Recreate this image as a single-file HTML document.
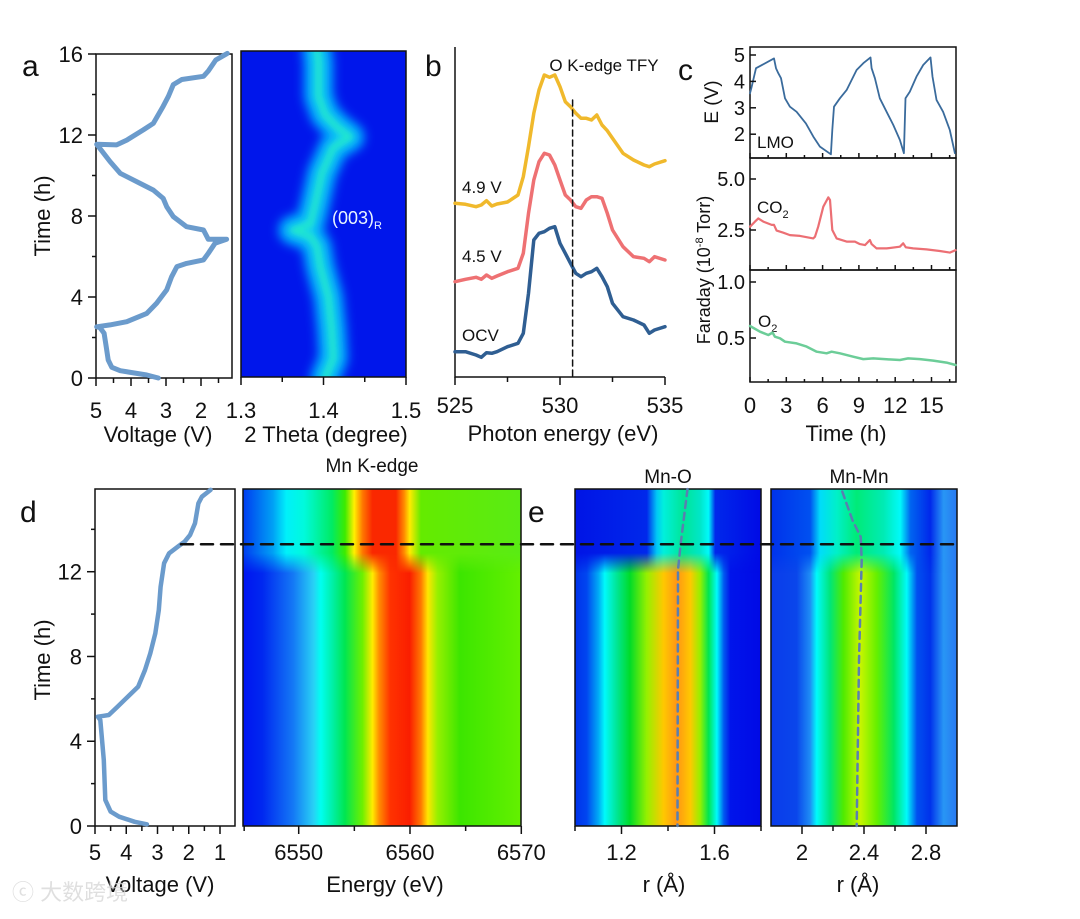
<!DOCTYPE html>
<html><head><meta charset="utf-8"><style>
html,body{margin:0;padding:0;background:#fff;}
svg text{font-family:"Liberation Sans","Noto Sans CJK SC",sans-serif;fill:#111;}
</style></head><body>
<svg id="fig" width="1080" height="914" viewBox="0 0 1080 914" xmlns="http://www.w3.org/2000/svg">
<defs>
<filter id="blur5" x="-50%" y="-10%" width="200%" height="120%"><feGaussianBlur stdDeviation="5"/></filter>
<filter id="blur3" x="-50%" y="-10%" width="200%" height="120%"><feGaussianBlur stdDeviation="3"/></filter>
<clipPath id="clipA"><rect x="241" y="51" width="165" height="326"/></clipPath>
<linearGradient id="dBot" x1="243" x2="521" gradientUnits="userSpaceOnUse">
<stop offset="0" stop-color="rgb(0,20,240)"/><stop offset=".07" stop-color="rgb(0,40,240)"/><stop offset=".18" stop-color="rgb(20,120,245)"/><stop offset=".255" stop-color="rgb(40,210,245)"/><stop offset=".28" stop-color="rgb(0,255,240)"/><stop offset=".32" stop-color="rgb(0,240,170)"/><stop offset=".367" stop-color="rgb(0,230,80)"/><stop offset=".43" stop-color="rgb(110,240,0)"/><stop offset=".466" stop-color="rgb(255,235,0)"/><stop offset=".49" stop-color="rgb(255,140,0)"/><stop offset=".53" stop-color="rgb(255,50,0)"/><stop offset=".60" stop-color="rgb(250,30,0)"/><stop offset=".64" stop-color="rgb(255,120,0)"/><stop offset=".665" stop-color="rgb(255,230,0)"/><stop offset=".70" stop-color="rgb(150,240,0)"/><stop offset=".78" stop-color="rgb(60,230,0)"/><stop offset="1" stop-color="rgb(100,240,0)"/>
</linearGradient>
<linearGradient id="dTop" x1="243" x2="521" gradientUnits="userSpaceOnUse">
<stop offset="0" stop-color="rgb(0,60,240)"/><stop offset=".107" stop-color="rgb(0,160,245)"/><stop offset=".156" stop-color="rgb(0,240,250)"/><stop offset=".22" stop-color="rgb(0,250,220)"/><stop offset=".32" stop-color="rgb(0,235,100)"/><stop offset=".367" stop-color="rgb(60,235,0)"/><stop offset=".40" stop-color="rgb(255,240,0)"/><stop offset=".43" stop-color="rgb(255,120,0)"/><stop offset=".466" stop-color="rgb(250,40,0)"/><stop offset=".55" stop-color="rgb(250,40,0)"/><stop offset=".58" stop-color="rgb(255,140,0)"/><stop offset=".60" stop-color="rgb(255,235,0)"/><stop offset=".64" stop-color="rgb(100,235,0)"/><stop offset="1" stop-color="rgb(90,235,20)"/>
</linearGradient>
<linearGradient id="e1Bot" x1="575" x2="761" gradientUnits="userSpaceOnUse">
<stop offset="0" stop-color="rgb(0,50,235)"/><stop offset=".063" stop-color="rgb(0,70,240)"/><stop offset=".126" stop-color="rgb(0,170,245)"/><stop offset=".16" stop-color="rgb(0,250,250)"/><stop offset=".224" stop-color="rgb(0,230,150)"/><stop offset=".296" stop-color="rgb(0,220,40)"/><stop offset=".386" stop-color="rgb(150,240,0)"/><stop offset=".476" stop-color="rgb(255,200,0)"/><stop offset=".548" stop-color="rgb(255,150,20)"/><stop offset=".62" stop-color="rgb(255,200,0)"/><stop offset=".673" stop-color="rgb(150,240,0)"/><stop offset=".718" stop-color="rgb(0,230,80)"/><stop offset=".763" stop-color="rgb(0,250,250)"/><stop offset=".80" stop-color="rgb(0,90,240)"/><stop offset=".835" stop-color="rgb(0,20,235)"/><stop offset="1" stop-color="rgb(0,10,230)"/>
</linearGradient>
<linearGradient id="e1Top" x1="575" x2="761" gradientUnits="userSpaceOnUse">
<stop offset="0" stop-color="rgb(0,20,230)"/><stop offset=".386" stop-color="rgb(0,40,235)"/><stop offset=".44" stop-color="rgb(0,200,245)"/><stop offset=".476" stop-color="rgb(0,240,220)"/><stop offset=".583" stop-color="rgb(0,230,150)"/><stop offset=".673" stop-color="rgb(0,230,200)"/><stop offset=".718" stop-color="rgb(0,250,250)"/><stop offset=".754" stop-color="rgb(0,40,235)"/><stop offset="1" stop-color="rgb(0,10,230)"/>
</linearGradient>
<linearGradient id="e2Bot" x1="771" x2="957" gradientUnits="userSpaceOnUse">
<stop offset="0" stop-color="rgb(10,60,235)"/><stop offset=".138" stop-color="rgb(10,70,235)"/><stop offset=".21" stop-color="rgb(30,140,245)"/><stop offset=".246" stop-color="rgb(0,250,250)"/><stop offset=".318" stop-color="rgb(0,230,120)"/><stop offset=".39" stop-color="rgb(80,235,0)"/><stop offset=".48" stop-color="rgb(200,245,0)"/><stop offset=".57" stop-color="rgb(100,240,0)"/><stop offset=".66" stop-color="rgb(0,230,100)"/><stop offset=".73" stop-color="rgb(0,250,250)"/><stop offset=".785" stop-color="rgb(0,80,240)"/><stop offset=".856" stop-color="rgb(0,50,235)"/><stop offset=".928" stop-color="rgb(40,150,245)"/><stop offset="1" stop-color="rgb(40,120,240)"/>
</linearGradient>
<linearGradient id="e2Top" x1="771" x2="957" gradientUnits="userSpaceOnUse">
<stop offset="0" stop-color="rgb(0,50,235)"/><stop offset=".21" stop-color="rgb(0,80,240)"/><stop offset=".264" stop-color="rgb(0,220,250)"/><stop offset=".354" stop-color="rgb(0,240,200)"/><stop offset=".46" stop-color="rgb(0,235,120)"/><stop offset=".605" stop-color="rgb(0,235,180)"/><stop offset=".695" stop-color="rgb(0,250,250)"/><stop offset=".75" stop-color="rgb(0,100,240)"/><stop offset=".856" stop-color="rgb(0,40,235)"/><stop offset=".928" stop-color="rgb(40,150,245)"/><stop offset="1" stop-color="rgb(40,120,240)"/>
</linearGradient>
<linearGradient id="fadeTop" x1="0" x2="0" y1="489" y2="826" gradientUnits="userSpaceOnUse">
<stop offset="0" stop-color="#fff"/><stop offset=".19" stop-color="#fff"/><stop offset=".25" stop-color="#000"/><stop offset="1" stop-color="#000"/>
</linearGradient>
<mask id="mTop"><rect x="0" y="489" width="1080" height="337" fill="url(#fadeTop)"/></mask>
</defs>
<rect x="0" y="0" width="1080" height="914" fill="#fff"/>

<!-- panel letters & titles -->
<text x="22" y="76" font-size="30">a</text>
<text x="425" y="76" font-size="30">b</text>
<text x="678" y="80" font-size="30">c</text>
<text x="20" y="522" font-size="30">d</text>
<text x="528" y="522" font-size="30">e</text>

<!-- heatmap a -->
<g clip-path="url(#clipA)">
<rect x="241" y="51" width="165" height="326" fill="rgb(0,22,235)"/>
<g id="ridgeG"></g>
</g>
<rect x="241" y="51" width="165" height="326" fill="none" stroke="#111" stroke-width="1.5"/>
<text x="332" y="224" font-size="18" fill="#e8f4ff" style="fill:#e8f4ff">(003)<tspan font-size="11" dy="5" style="fill:#e8f4ff">R</tspan></text>

<!-- heatmap d -->
<g>
<rect x="243" y="489" width="278" height="337" fill="url(#dBot)"/>
<rect x="243" y="489" width="278" height="337" fill="url(#dTop)" mask="url(#mTop)"/>
</g>
<rect x="243" y="489" width="278" height="337" fill="none" stroke="#111" stroke-width="1.5"/>
<g>
<rect x="575" y="489" width="186" height="337" fill="url(#e1Bot)"/>
<rect x="575" y="489" width="186" height="337" fill="url(#e1Top)" mask="url(#mTop)"/>
</g>
<rect x="575" y="489" width="186" height="337" fill="none" stroke="#111" stroke-width="1.5"/>
<g>
<rect x="771" y="489" width="186" height="337" fill="url(#e2Bot)"/>
<rect x="771" y="489" width="186" height="337" fill="url(#e2Top)" mask="url(#mTop)"/>
</g>
<rect x="771" y="489" width="186" height="337" fill="none" stroke="#111" stroke-width="1.5"/>

<!-- frames -->
<rect x="96" y="54" width="136" height="324" fill="none" stroke="#111" stroke-width="1.5"/>
<path d="M455,47 V377 H665" fill="none" stroke="#111" stroke-width="1.5"/>
<rect x="750" y="47" width="206" height="111" fill="none" stroke="#111" stroke-width="1.5"/>
<rect x="750" y="158" width="206" height="112" fill="none" stroke="#111" stroke-width="1.5"/>
<rect x="750" y="270" width="206" height="112" fill="none" stroke="#111" stroke-width="1.5"/>
<rect x="95" y="489" width="140" height="337" fill="none" stroke="#111" stroke-width="1.5"/>

<!-- axis titles -->
<text transform="translate(50,216) rotate(-90)" text-anchor="middle" font-size="22">Time (h)</text>
<text x="158" y="442" text-anchor="middle" font-size="22">Voltage (V)</text>
<text x="326" y="442" text-anchor="middle" font-size="22">2 Theta (degree)</text>
<text x="563" y="441" text-anchor="middle" font-size="22">Photon energy (eV)</text>
<text x="604" y="71" text-anchor="middle" font-size="17">O K-edge TFY</text>
<text x="462" y="193" font-size="17">4.9 V</text>
<text x="462" y="262" font-size="17">4.5 V</text>
<text x="462" y="341" font-size="17">OCV</text>
<text x="846" y="441" text-anchor="middle" font-size="22">Time (h)</text>
<text transform="translate(718,102) rotate(-90)" text-anchor="middle" font-size="19">E (V)</text>
<text transform="translate(710,270) rotate(-90)" text-anchor="middle" font-size="18">Faraday (10<tspan font-size="11" dy="-7">-8</tspan><tspan dy="7"> Torr)</tspan></text>
<text x="757" y="148" font-size="17">LMO</text>
<text x="757" y="213" font-size="17">CO<tspan font-size="11" dy="5">2</tspan></text>
<text x="758" y="327" font-size="17">O<tspan font-size="11" dy="5">2</tspan></text>
<text x="372" y="472" text-anchor="middle" font-size="19">Mn K-edge</text>
<text x="668" y="483" text-anchor="middle" font-size="19">Mn-O</text>
<text x="859" y="483" text-anchor="middle" font-size="19">Mn-Mn</text>
<text transform="translate(50,660) rotate(-90)" text-anchor="middle" font-size="22">Time (h)</text>
<text x="160" y="892" text-anchor="middle" font-size="22">Voltage (V)</text>
<text x="385" y="892" text-anchor="middle" font-size="22">Energy (eV)</text>
<text x="664" y="892" text-anchor="middle" font-size="22">r (Å)</text>
<text x="858" y="892" text-anchor="middle" font-size="22">r (Å)</text>
<text x="12" y="900" font-size="22" style="fill:#d8d8d8" opacity="0.8">ⓒ 大数跨境</text>
<g id="dyn"></g>
</svg>
<script>
// ---------- data ----------
// panel a: voltage profile
const aTime = [0,0.15,0.36,0.53,0.89,1.55,2.21,2.49,2.53,2.62,2.78,3.19,3.69,4.35,5.0,5.5,5.66,5.83,6.16,6.65,6.85,6.85,7.31,7.47,7.97,8.46,8.87,9.28,9.61,10.11,10.69,11.54,11.51,11.75,12.25,12.58,13.42,13.91,14.49,14.74,14.9,15.16,15.7,16.03];
const aVolt = [3.22,3.55,4.31,4.55,4.65,4.71,4.77,4.89,4.98,4.6,4.12,3.55,3.27,2.98,2.84,2.69,2.41,1.93,1.79,1.6,1.27,1.79,1.93,2.41,2.79,2.98,3.08,3.36,3.74,4.31,4.6,4.98,4.41,4.12,3.65,3.36,3.08,2.93,2.79,2.55,1.93,1.79,1.58,1.25];
// panel a: (003) ridge position
const ridgeTime = [0,1,2.4,4,5.5,6.5,7.0,7.3,7.6,8.6,10.1,11.4,11.9,12.4,13.0,13.9,15.6,16.2];
const ridgeTheta = [1.402,1.412,1.410,1.406,1.396,1.392,1.384,1.363,1.384,1.390,1.398,1.412,1.432,1.416,1.402,1.394,1.394,1.392];
// panel b: O K-edge spectra
const bEnergy = [525,525.5,526,526.25,526.5,526.75,527,527.5,528,528.25,528.5,528.75,529,529.25,529.5,529.75,530,530.25,530.5,530.75,531,531.25,531.5,531.75,532,532.25,532.5,533,533.5,534,534.25,534.5,535];
const b49V = [521,518,511,516,529,513,519,525,546,601,691,791,861,906,899,906,871,826,811,791,776,776,771,786,756,739,716,671,651,636,631,639,649];
const b45V = [286,293,299,293,306,296,303,316,326,371,491,591,646,671,666,636,591,546,531,511,506,531,541,541,536,491,441,391,361,356,346,361,351];
const bOCV = [76,76,66,59,73,71,76,91,101,131,251,411,431,436,446,451,401,371,341,311,301,311,316,326,301,271,221,181,171,156,131,141,151];
const bDash = 530.6;
// panel c
const cETime = [0,0.14,0.5,0.83,1.98,2.15,2.34,2.56,2.89,3.3,3.85,4.62,5.23,5.78,6.69,6.8,6.94,7.43,7.98,8.81,9.36,9.96,10.05,10.32,10.73,11.29,11.84,12.39,12.72,12.85,13.21,13.76,14.31,14.92,15.08,15.41,15.96,16.51,16.93];
const cE = [3.55,3.8,4.5,4.58,4.87,4.5,4.31,4.12,3.36,3.04,2.85,2.41,1.91,1.53,1.24,2.16,3.04,3.36,3.67,4.43,4.69,4.91,4.5,4.12,3.36,2.85,2.35,1.78,1.28,3.36,3.61,4.18,4.62,4.91,4.18,3.3,2.85,2.16,1.28];
const cCO2Time = [0,0.41,0.69,1.1,1.79,1.98,2.2,2.75,3.3,4.13,5.23,5.37,5.64,6.06,6.47,6.61,6.8,7.16,7.98,8.67,9.08,9.5,9.91,10.05,10.46,11.29,12.39,12.66,12.88,13.49,14.59,15.69,16.51,16.98];
const cCO2 = [2.66,2.91,3.07,2.91,2.75,2.75,2.47,2.37,2.25,2.21,2.09,2.17,2.66,3.64,4.1,3.97,2.5,2.09,1.93,1.93,1.81,1.76,2.01,1.81,1.6,1.6,1.68,1.85,1.65,1.6,1.55,1.47,1.39,1.51];
const cO2Time = [0,0.83,1.51,1.87,2.06,2.48,2.89,3.85,4.68,5.51,6.33,6.74,7.43,8.53,9.36,10.18,11.29,12.39,13.07,14.04,15.14,16.24,16.98];
const cO2 = [0.607,0.556,0.527,0.548,0.512,0.497,0.467,0.452,0.423,0.378,0.363,0.378,0.363,0.333,0.312,0.318,0.31,0.304,0.318,0.312,0.298,0.28,0.259];
// panel d voltage
const dTime = [0.08,0.2,0.44,0.68,1.23,3.11,5.0,5.16,5.2,5.24,5.63,6.1,6.57,7.36,8.15,9.09,10.19,11.29,12.4,12.87,13.18,13.42,13.73,14.29,15.23,15.54,15.86];
const dVolt = [3.34,3.73,4.23,4.5,4.67,4.72,4.83,4.91,4.72,4.56,4.28,3.95,3.62,3.4,3.23,3.07,2.96,2.9,2.79,2.63,2.35,2.13,1.96,1.8,1.69,1.58,1.3];
const dCutTime = 13.3;
// panel e guides
const e1Time = [15.9,13.37,12.08,0];
const e1R = [1.484,1.455,1.443,1.441];
const e2Time = [15.78,14.44,13.65,12.55,7.83,0];
const e2R = [2.26,2.325,2.379,2.385,2.368,2.353];
// tick labels
const aTimeTicks = [0,4,8,12,16];
const aVoltTicks = [5,4,3,2];
const thetaTicks = [1.3,1.4,1.5];
const bTicks = [525,530,535];
const cTimeTicks = [0,3,6,9,12,15];
const cETicks = [2,3,4,5];
const cCO2Ticks = [2.5,5.0];
const cO2Ticks = [0.5,1.0];
const dTimeTicks = [0,4,8,12];
const dVoltTicks = [5,4,3,2,1];
const enTicks = [6550,6560,6570];
const r1Ticks = [1.2,1.6];
const r2Ticks = [2,2.4,2.8];

// ---------- scales ----------
const xV = v => 96 + (5 - v) * 35, yT = t => 378 - t * 20.25;
const xTh = v => 241 + (v - 1.3) * 825;
const xE = e => 455 + (e - 525) * 21, yI = i => 377 - i / 3;
const xH = t => 750 + t * 12.1;
const yE = v => 55 + (5 - v) * 26.4, yC = v => 179 + (5 - v) * 20.4, yO = v => 282 + (1 - v) * 112;
const xVd = v => 95 + (5 - v) * 31.25, yTd = t => 826 - t * 21.19;
const xEn = e => 298.7 + (e - 6550) * 11.13;
const xR1 = r => 575 + (r - 1) * 232.5, xR2 = r => 771 + (r - 1.8) * 155;

const NS = 'http://www.w3.org/2000/svg';
const dyn = document.getElementById('dyn');
function mk(tag, parent) { const e = document.createElementNS(NS, tag); (parent || dyn).appendChild(e); return e; }
function pathD(xs, ys, fx, fy) { return xs.map((v, i) => (i ? 'L' : 'M') + fx(v).toFixed(1) + ',' + fy(ys[i]).toFixed(1)).join(''); }
function line(d, color, w, name, dash, parent) {
  const p = mk('path', parent);
  p.setAttribute('d', d); p.setAttribute('fill', 'none'); p.setAttribute('stroke', color);
  p.setAttribute('stroke-width', w); p.setAttribute('stroke-linejoin', 'round'); p.setAttribute('stroke-linecap', 'round');
  if (dash) p.setAttribute('stroke-dasharray', dash);
  return p;
}
function txt(x, y, s, size, anchor) {
  const t = mk('text'); t.setAttribute('x', x); t.setAttribute('y', y); t.setAttribute('font-size', size);
  t.setAttribute('text-anchor', anchor || 'middle'); t.textContent = s; return t;
}
function tick(x1, y1, x2, y2) { const l = mk('line'); l.setAttribute('x1', x1); l.setAttribute('y1', y1); l.setAttribute('x2', x2); l.setAttribute('y2', y2); l.setAttribute('stroke', '#111'); l.setAttribute('stroke-width', 1.5); return l; }

// ridge in heatmap a
const rg = document.getElementById('ridgeG');
const rd = pathD(ridgeTheta, ridgeTime, xTh, yT);
let r1 = line(rd, 'rgb(0,150,255)', 30, '', null, rg); r1.setAttribute('filter', 'url(#blur5)');


let r2 = line(rd, 'rgb(20,215,235)', 14, '', null, rg); r2.setAttribute('filter', 'url(#blur5)');


let r3 = line(rd, 'rgb(40,240,190)', 5, '', null, rg); r3.setAttribute('filter', 'url(#blur3)'); r3.setAttribute('opacity', '0.7');



// panel a voltage
let pa = line(pathD(aVolt, aTime, xV, yT), '#6b9bcc', 5, '');


aTimeTicks.forEach(t => { tick(88, yT(t), 96, yT(t)); const s = txt(83, yT(t) + 8, String(t), 22, 'end');
  
   });
[2, 6, 10, 14].forEach(t => tick(92, yT(t), 96, yT(t)));
aVoltTicks.forEach(v => { tick(xV(v), 378, xV(v), 386); const s = txt(xV(v), 418, String(v), 22);
  
   });
[4.5, 3.5, 2.5, 1.5].forEach(v => tick(xV(v), 378, xV(v), 383));
thetaTicks.forEach(v => { tick(xTh(v), 377, xTh(v), 385); const s = txt(xTh(v), 418, v.toFixed(1), 22);
  
   });
[1.35, 1.45].forEach(v => tick(xTh(v), 377, xTh(v), 382));

// panel b
[[b49V, '#f0b92c', 'spectrum-4-9v'], [b45V, '#ee7173', 'spectrum-4-5v'], [bOCV, '#2f5e92', 'spectrum-ocv']].forEach(s => {
  const p = line(pathD(bEnergy, s[0], xE, yI), s[1], 3.5, '');
  
  
});
let dl = line('M' + xE(bDash) + ',100 V377', '#111', 1.5, '', '6,4');


bTicks.forEach(v => { tick(xE(v), 377, xE(v), 385); const s = txt(xE(v), 413, String(v), 22);
  
   });
[527.5, 532.5].forEach(v => tick(xE(v), 377, xE(v), 382));

// panel c
let ce = line(pathD(cETime, cE, xH, yE), '#3a6b9c', 1.8, '');


let cc = line(pathD(cCO2Time, cCO2, xH, yC), '#ec6f74', 2.2, '');


let co = line(pathD(cO2Time, cO2, xH, yO), '#6ccd98', 2.5, '');


cTimeTicks.forEach(t => { const s = txt(xH(t), 413, String(t), 22);
  
  
  [158, 270, 382].forEach(y => tick(xH(t), y, xH(t), y - 5)); });
[1.5, 4.5, 7.5, 10.5, 13.5, 16.5].forEach(t => [158, 270, 382].forEach(y => tick(xH(t), y, xH(t), y - 3)));
cETicks.forEach(v => { tick(750, yE(v), 756, yE(v)); const s = txt(745, yE(v) + 7, String(v), 20, 'end');
  
   });
cCO2Ticks.forEach(v => { tick(750, yC(v), 756, yC(v)); const s = txt(745, yC(v) + 7, v.toFixed(1), 20, 'end');
  
   });
cO2Ticks.forEach(v => { tick(750, yO(v), 756, yO(v)); const s = txt(745, yO(v) + 7, v.toFixed(1), 20, 'end');
  
   });

// panel d
let pd = line(pathD(dVolt, dTime, xVd, yTd), '#6b9bcc', 4.5, '');


dTimeTicks.forEach(t => { tick(87, yTd(t), 95, yTd(t)); const s = txt(82, yTd(t) + 8, String(t), 22, 'end');
  
   });
[2, 6, 10, 14].forEach(t => tick(91, yTd(t), 95, yTd(t)));
dVoltTicks.forEach(v => { tick(xVd(v), 826, xVd(v), 834); const s = txt(xVd(v), 860, String(v), 22);
  
   });
[4.5, 3.5, 2.5, 1.5].forEach(v => tick(xVd(v), 826, xVd(v), 831));
enTicks.forEach(v => { tick(xEn(v), 826, xEn(v), 834); const s = txt(xEn(v), 860, String(v), 22);
  
   });
[6545.1, 6555, 6565].forEach(v => tick(xEn(v), 826, xEn(v), 831));

// panel e
let g1 = line(pathD(e1R, e1Time, xR1, yTd), '#5a7fb0', 2.5, '', '7,5');


let g2 = line(pathD(e2R, e2Time, xR2, yTd), '#5a7fb0', 2.5, '', '7,5');


r1Ticks.forEach(v => { tick(xR1(v), 826, xR1(v), 834); const s = txt(xR1(v), 860, v.toFixed(1), 22);
  
   });
[1.0, 1.4, 1.8].forEach(v => tick(xR1(v), 826, xR1(v), 831));
r2Ticks.forEach(v => { tick(xR2(v), 826, xR2(v), 834); const s = txt(xR2(v), 860, String(v), 22);
  
   });
[2.2, 2.6].forEach(v => tick(xR2(v), 826, xR2(v), 831));

// cut line across d and e
let cut = line('M181,' + yTd(dCutTime).toFixed(1) + ' H960', '#111', 2.5, '', '12,8');


</script>
</body></html>
